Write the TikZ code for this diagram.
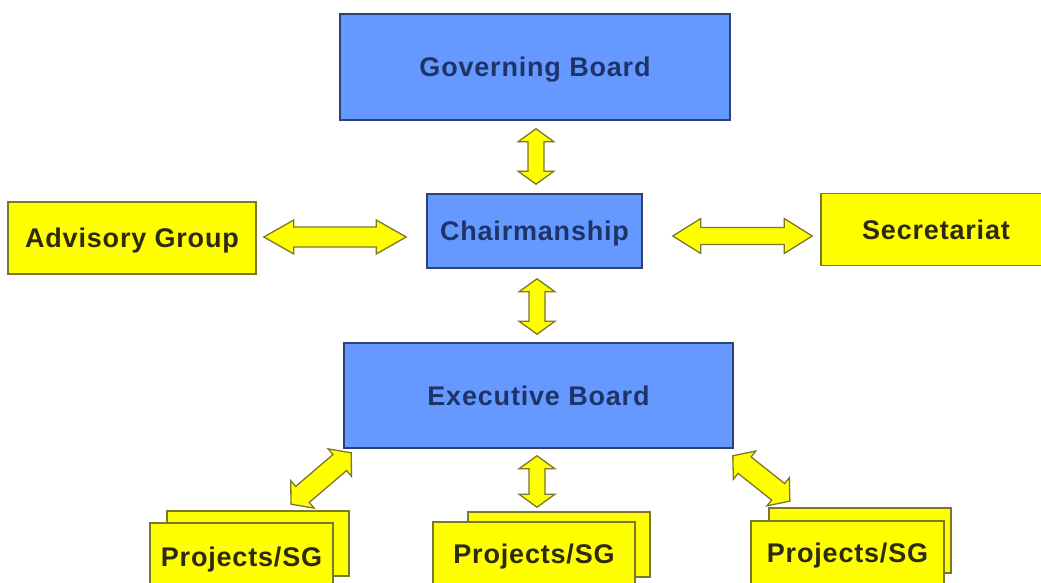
\documentclass[tikz,border=0pt]{standalone}
\usepackage{fontspec}
\setmainfont{Liberation Sans}[LetterSpace=3]
\usetikzlibrary{calc}
\definecolor{boxblue}{RGB}{102,153,255}
\definecolor{blueline}{RGB}{45,65,115}
\definecolor{bluetext}{RGB}{30,52,105}
\definecolor{yel}{RGB}{255,255,0}
\definecolor{oliveline}{RGB}{125,118,45}
\definecolor{ytext}{RGB}{45,42,15}
\tikzset{
  base/.style={draw, line width=1.6pt, inner sep=0pt, font=\fontsize{27}{30}\selectfont\bfseries, text height=19.3pt, text depth=0pt},
  bluebox/.style={base, fill=boxblue, draw=blueline, text=bluetext},
  yelbox/.style={base, fill=yel, draw=oliveline, text=ytext},
  arrowsty/.style={fill=yel, draw=oliveline, line width=1.3pt, line join=miter},
  pics/dblarr/.style args={#1/#2/#3/#4}{code={%
    \draw[arrowsty] (0pt,0pt) -- ({#4*1pt},{#3*1pt}) -- ({#4*1pt},{#2*1pt})
      -- ({(#1-#4)*1pt},{#2*1pt}) -- ({(#1-#4)*1pt},{#3*1pt}) -- ({#1*1pt},0pt)
      -- ({(#1-#4)*1pt},{-#3*1pt}) -- ({(#1-#4)*1pt},{-#2*1pt})
      -- ({#4*1pt},{-#2*1pt}) -- ({#4*1pt},{-#3*1pt}) -- cycle;}}
}
\newcommand\dblink[5]{\path let \p1=#1, \p2=#2,
  \n1={atan2(\y2-\y1,\x2-\x1)}, \n2={veclen(\x2-\x1,\y2-\y1)} in
  pic[rotate=\n1] at (\p1) {dblarr={\n2/#3/#4/#5}};}
\begin{document}
\begin{tikzpicture}[x=1pt,y=-1pt]
\useasboundingbox (0,0) rectangle (1041,583);
\clip (0,0) rectangle (1041,583);
\fill[white] (0,0) rectangle (1041,583);
% main boxes
\node[bluebox, minimum width=390pt, minimum height=106pt] (gb) at (535,67) {Governing Board};
\node[bluebox, minimum width=215pt, minimum height=74pt] (chair) at (534.5,231) {Chairmanship};
\node[yelbox, minimum width=248pt, minimum height=72pt] (adv) at (132,238) {Advisory Group};
\node[yelbox, minimum width=230pt, minimum height=72pt] (sec) at (936,229.5) {Secretariat};
\node[bluebox, minimum width=389pt, minimum height=105pt] (eb) at (538.5,395.5) {Executive Board};
% project boxes (back)
\node[yelbox, minimum width=182pt, minimum height=65pt] (p1b) at (258,543.5) {};
\node[yelbox, minimum width=182pt, minimum height=65pt] (p2b) at (559,544.5) {};
\node[yelbox, minimum width=182pt, minimum height=65pt] (p3b) at (860,540.5) {};
% project boxes (front)
\node[yelbox, minimum width=183pt, minimum height=68pt] (p1) at (241.5,557) {Projects/SG};
\node[yelbox, minimum width=202pt, minimum height=64pt] (p2) at (534,554) {Projects/SG};
\node[yelbox, minimum width=193pt, minimum height=64pt] (p3) at (847.5,553) {Projects/SG};
% connectors
\dblink{($(gb.south)+(1,8)$)}{($(chair.north)+(1.5,-9)$)}{8}{18}{13}
\dblink{($(chair.south)+(2.5,10)$)}{($(eb.north)+(-1.5,-8)$)}{8}{18}{13}
\dblink{($(adv.east)+(7,-1)$)}{($(chair.west)+(-20,6)$)}{10}{17}{30}
\dblink{($(chair.east)+(30,5)$)}{($(sec.west)+(-8,6.5)$)}{8.5}{17.5}{28}
\dblink{($(eb.south)+(-1.5,7)$)}{($(p2b.north)+(-22,-4)$)}{8}{18}{13}
\dblink{($(eb.south west)+(8,4)$)}{($(p1b.north)+(33,-6)$)}{10.5}{18}{15}
\dblink{($(eb.south east)+(-1,7)$)}{($(p3b.north)+(-70,-6)$)}{10.5}{18}{15}
\end{tikzpicture}
\end{document}
